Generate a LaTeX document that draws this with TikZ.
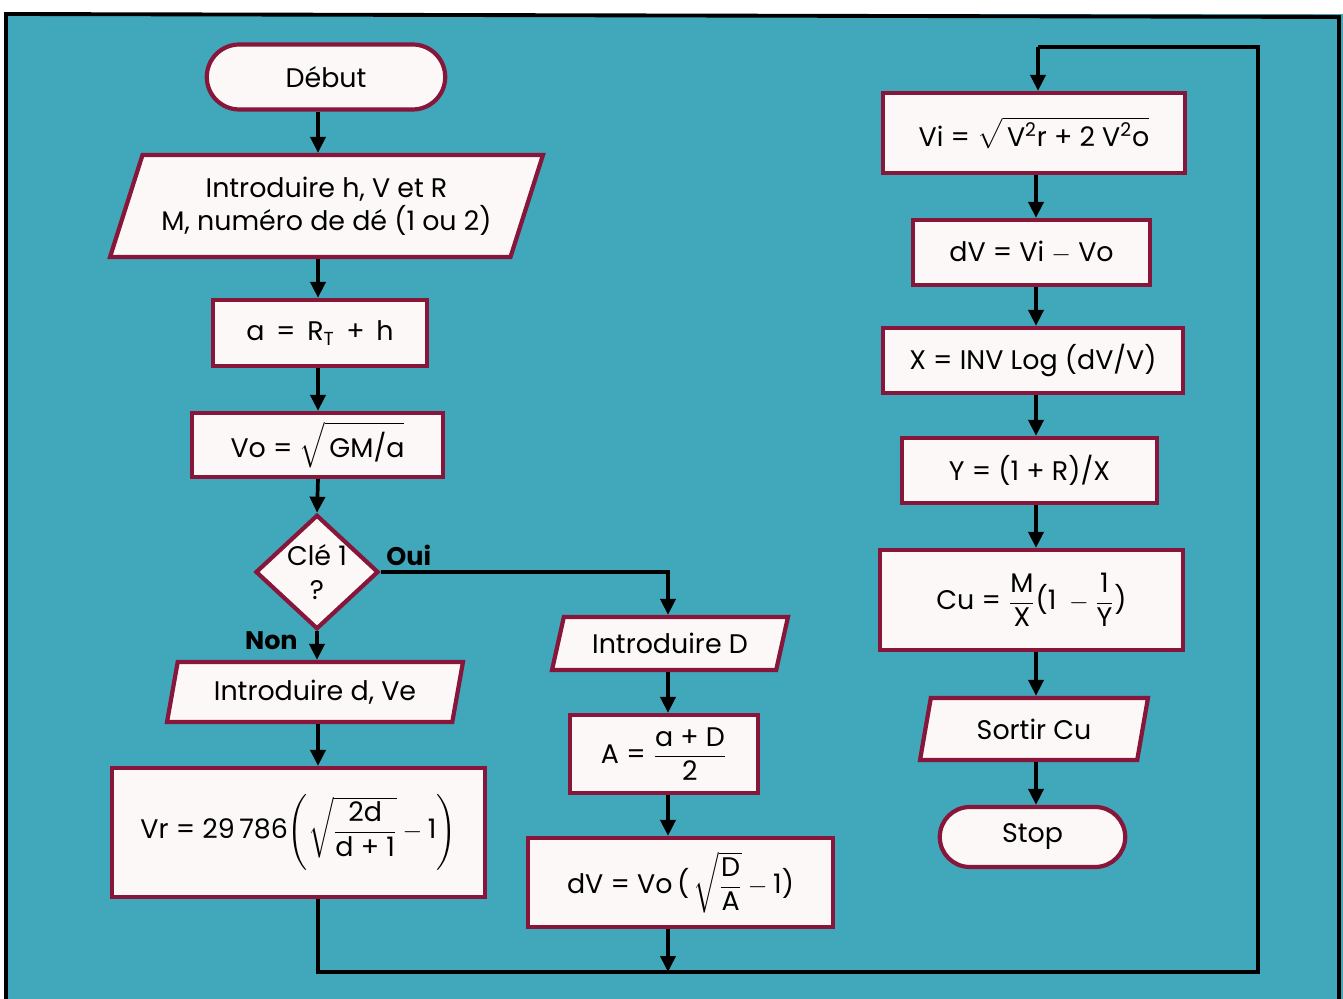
\documentclass[tikz,border=0pt]{standalone}
\usepackage{fontspec}
\usepackage{amsmath}
\setmainfont{Poppins}
\usetikzlibrary{shapes.geometric,shapes.misc,arrows.meta}
\definecolor{bgteal}{RGB}{64,168,186}
\definecolor{boxframe}{RGB}{135,22,58}
\definecolor{boxfill}{RGB}{253,248,248}
\begin{document}
\begin{tikzpicture}[x=0.02cm,y=-0.02cm,
  base/.style={draw=boxframe, line width=2.4pt, fill=boxfill, align=center,
    font=\fontsize{15.3}{19}\selectfont, inner sep=1pt},
  boxnode/.style={base, rectangle},
  termnode/.style={base, rounded rectangle},
  paranode/.style={base, trapezium, trapezium stretches body},
  decnode/.style={base, diamond},
  conn/.style={line width=2.1pt, black},
  arr/.style={conn, -{Triangle[length=0.32cm,width=0.3cm]}},
  lbl/.style={font=\fontsize{14.5}{17}\selectfont\bfseries, inner sep=0pt}
]
\useasboundingbox (0,0) rectangle (1343,999);
\fill[white] (0,0) rectangle (1343,999);
\fill[bgteal] (6,14) rectangle (1343,999);
\draw[line width=2.2pt, black] (6,999) -- (6,14) -- (1339,17) -- (1339,999);

% left column
\node[termnode, minimum width=4.84cm, minimum height=1.3cm] (debut) at (326,77) {Début};
\node[paranode, trapezium left angle=62.5, trapezium right angle=117.5,
  minimum width=8.66cm, minimum height=2.04cm] (p1) at (326.5,206)
  {Introduire h, V et R\\M, numéro de dé (1 ou 2)};
\node[boxnode, minimum width=4.28cm, minimum height=1.32cm] (ra) at (320,333)
  {a \,=\, R\textsubscript{T} \,+\, h};
\node[boxnode, minimum width=5.02cm, minimum height=1.28cm] (vo) at (317.5,445)
  {Vo = $\sqrt{\mbox{\,GM/a}}$};
\node[decnode, minimum width=2.46cm, minimum height=2.26cm, inner sep=0pt] (cle) at (317,572)
  {Clé 1\\?};
\node[paranode, trapezium left angle=69, trapezium right angle=111,
  minimum width=5.92cm, minimum height=1.2cm] (p2) at (315,692)
  {Introduire d, Ve};
\node[boxnode, minimum width=7.46cm, minimum height=2.58cm] (vr) at (298.5,832.5)
  {Vr = 29\,786$\left(\sqrt{\dfrac{\mbox{2d}}{\mbox{d + 1}}}-\mbox{1}\right)$};

% middle column
\node[paranode, trapezium left angle=64, trapezium right angle=116,
  minimum width=4.72cm, minimum height=1.06cm] (p3) at (670,643.5)
  {Introduire D};
\node[boxnode, minimum width=3.76cm, minimum height=1.56cm] (aa) at (664,754)
  {A = $\dfrac{\mbox{a + D}}{\mbox{2}}$};
\node[boxnode, minimum width=6.1cm, minimum height=1.78cm] (dvb) at (680.5,882.5)
  {dV = Vo\,(\,$\sqrt{\dfrac{\mbox{D}}{\mbox{A}}}-\mbox{1)}$};

% right column
\node[boxnode, minimum width=6.04cm, minimum height=1.6cm] (vi) at (1034,133)
  {Vi = $\sqrt{\mbox{\,V\textsuperscript{2}r + 2 V\textsuperscript{2}o}}$};
\node[boxnode, minimum width=4.74cm, minimum height=1.3cm] (dv) at (1031.5,252.5)
  {dV = Vi $-$ Vo};
\node[boxnode, minimum width=6.0cm, minimum height=1.3cm] (xx) at (1033,360.5)
  {X = INV Log (dV/V)};
\node[boxnode, minimum width=5.1cm, minimum height=1.3cm] (yy) at (1029.5,470.5)
  {Y = (1 + R)/X};
\node[boxnode, minimum width=6.06cm, minimum height=2.0cm] (cu) at (1031.5,600)
  {Cu = $\dfrac{\mbox{M}}{\mbox{X}}\mbox{(1 }-\dfrac{\mbox{1}}{\mbox{Y}}\mbox{)}$};
\node[paranode, trapezium left angle=66, trapezium right angle=114,
  minimum width=4.56cm, minimum height=1.24cm] (p4) at (1034,729)
  {Sortir Cu};
\node[termnode, minimum width=3.78cm, minimum height=1.2cm] (stop) at (1032.5,837) {Stop};

% helper coordinates
\coordinate (colL) at (318,0);
\coordinate (colM) at (668,0);
\coordinate (colR) at (1036,0);
\coordinate (bl) at (318,972);
\coordinate (bm) at (668,972);
\coordinate (br) at (1258,972);
\coordinate (tr) at (1258,47);
\coordinate (tl) at (1038,47);

% connectors left
\draw[arr] (debut.south -| colL) -- (p1.north -| colL);
\draw[arr] (p1.south -| colL) -- (ra.north -| colL);
\draw[arr] (ra.south -| colL) -- (vo.north -| colL);
\draw[arr] (vo.south -| colL) -- (cle.north);
\draw[arr] (cle.south) -- (p2.north -| cle.south);
\draw[arr] (p2.south -| colL) -- (vr.north -| colL);
% oui branch
\draw[arr] (cle.east) -- (cle.east -| colM) -- (p3.north -| colM);
\draw[arr] (p3.south -| colM) -- (aa.north -| colM);
\draw[arr] (aa.south -| colM) -- (dvb.north -| colM);
\draw[arr] (dvb.south -| colM) -- (bm);
% loop
\draw[conn] (vr.south -| colL) -- (bl) -- (br) -- (tr) -- (tl);
\draw[arr] (tl) -- (vi.north -| tl);
% right column
\draw[arr] (vi.south -| colR) -- (dv.north -| colR);
\draw[arr] (dv.south -| colR) -- (xx.north -| colR);
\draw[arr] (xx.south -| colR) -- (yy.north -| colR);
\draw[arr] (yy.south -| colR) -- (cu.north -| colR);
\draw[arr] (cu.south -| colR) -- (p4.north -| colR);
\draw[arr] (p4.south -| colR) -- (stop.north -| colR);

% labels
\node[lbl, anchor=south west] (oui) at (386,566) {Oui};
\node[lbl, anchor=south east] (non) at (298,650) {Non};
\end{tikzpicture}
\end{document}
